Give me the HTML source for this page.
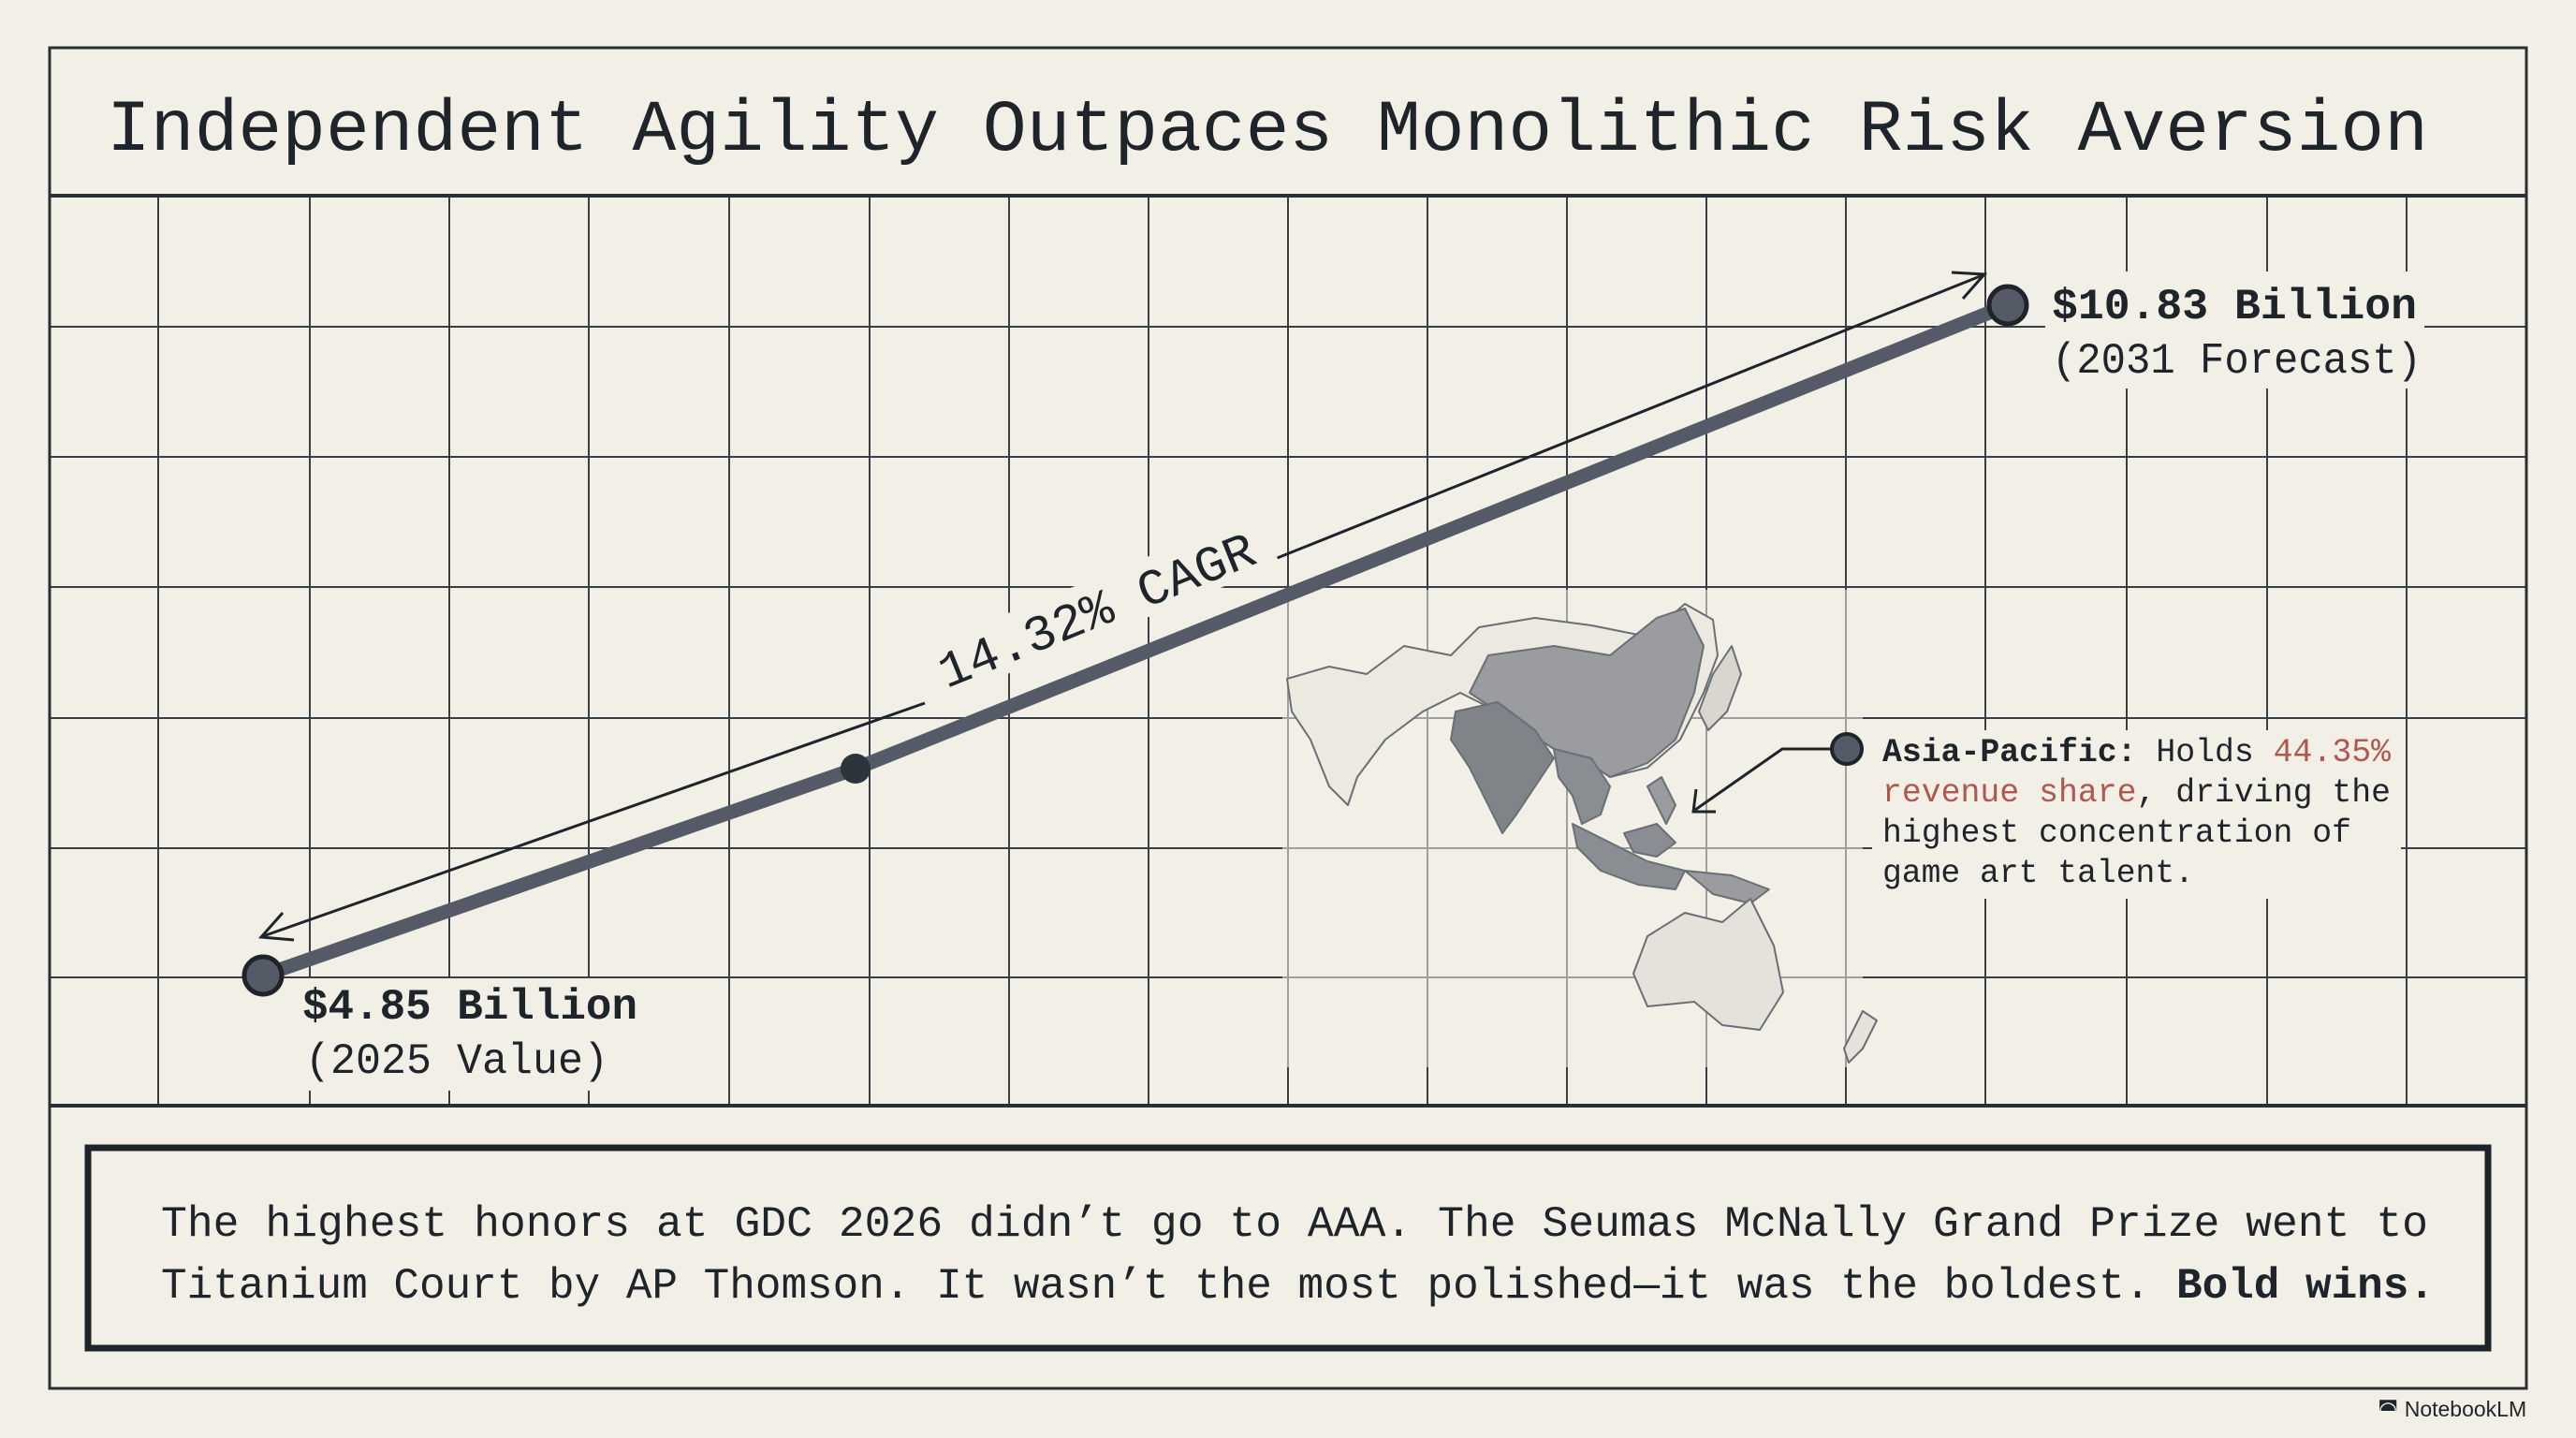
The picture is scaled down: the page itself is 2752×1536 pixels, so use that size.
<!DOCTYPE html>
<html><head><meta charset="utf-8"><style>
html,body{margin:0;padding:0;background:#f2efe6;}
svg{display:block}
text{font-family:"Liberation Mono","DejaVu Sans Mono",monospace;fill:#1f242b}
</style></head><body>
<svg width="2752" height="1536" viewBox="0 0 2752 1536" xmlns="http://www.w3.org/2000/svg">
<rect width="2752" height="1536" fill="#f2efe6"/>
<!-- grid -->
<g stroke="#3a3f45" stroke-width="2">
<line x1="169" y1="209" x2="169" y2="1181"/><line x1="331" y1="209" x2="331" y2="1181"/><line x1="480" y1="209" x2="480" y2="1181"/><line x1="629" y1="209" x2="629" y2="1181"/><line x1="779" y1="209" x2="779" y2="1181"/><line x1="929" y1="209" x2="929" y2="1181"/><line x1="1078" y1="209" x2="1078" y2="1181"/><line x1="1227" y1="209" x2="1227" y2="1181"/><line x1="1376" y1="209" x2="1376" y2="1181"/><line x1="1525" y1="209" x2="1525" y2="1181"/><line x1="1674" y1="209" x2="1674" y2="1181"/><line x1="1823" y1="209" x2="1823" y2="1181"/><line x1="1972" y1="209" x2="1972" y2="1181"/><line x1="2121" y1="209" x2="2121" y2="1181"/><line x1="2272" y1="209" x2="2272" y2="1181"/><line x1="2422" y1="209" x2="2422" y2="1181"/><line x1="2571" y1="209" x2="2571" y2="1181"/>
<line x1="53" y1="349" x2="2699" y2="349"/><line x1="53" y1="488" x2="2699" y2="488"/><line x1="53" y1="627" x2="2699" y2="627"/><line x1="53" y1="767" x2="2699" y2="767"/><line x1="53" y1="906" x2="2699" y2="906"/><line x1="53" y1="1044" x2="2699" y2="1044"/>
</g>
<!-- map background fade -->
<rect x="1370" y="630" width="620" height="510" fill="#f2efe6" opacity="0.55"/>
<!-- map -->
<g stroke="#6a6f76" stroke-width="2" stroke-linejoin="round">
<path d="M1375,725 L1420,712 L1460,720 L1500,690 L1550,700 L1580,670 L1640,660 L1700,668 L1760,680 L1800,645 L1830,662 L1835,700 L1820,740 L1795,790 L1760,820 L1720,830 L1680,800 L1640,790 L1600,760 L1560,740 L1520,760 L1480,790 L1450,830 L1440,860 L1420,840 L1400,790 L1380,760 Z" fill="#ece9e0"/>
<path d="M1590,700 L1660,690 L1720,700 L1770,660 L1800,650 L1820,690 L1810,740 L1790,790 L1760,815 L1720,830 L1690,810 L1660,800 L1630,780 L1600,760 L1570,740 Z" fill="#9a9ca0"/>
<path d="M1555,760 L1600,750 L1640,780 L1660,810 L1640,840 L1620,870 L1605,890 L1590,860 L1570,820 L1550,790 Z" fill="#808388"/>
<path d="M1660,800 L1700,810 L1720,840 L1710,870 L1690,880 L1680,850 L1665,830 Z" fill="#8a8d92"/>
<path d="M1680,880 L1720,900 L1760,920 L1800,930 L1790,950 L1750,945 L1710,930 L1685,905 Z" fill="#8a8d92"/>
<path d="M1735,890 L1770,880 L1790,900 L1770,915 L1745,910 Z" fill="#8a8d92"/>
<path d="M1800,930 L1850,935 L1890,950 L1870,965 L1830,955 Z" fill="#9a9ca0"/>
<path d="M1815,760 L1830,720 L1850,690 L1860,720 L1845,760 L1825,780 Z" fill="#d8d6cf"/>
<path d="M1760,840 L1775,830 L1790,860 L1780,880 Z" fill="#9a9ca0"/>
<path d="M1760,1000 L1800,975 L1840,985 L1870,960 L1895,1010 L1905,1060 L1880,1100 L1840,1095 L1810,1070 L1760,1075 L1745,1040 Z" fill="#e4e2da"/>
<path d="M1990,1080 L2005,1090 L1990,1120 L1975,1135 L1970,1120 Z" fill="#e4e2da"/>
</g>
<!-- label backgrounds -->
<rect x="2185" y="290" width="405" height="125" fill="#f2efe6"/>
<rect x="312" y="1045" width="380" height="120" fill="#f2efe6"/>
<rect x="2000" y="780" width="565" height="180" fill="#f2efe6"/>
<!-- frame -->
<rect x="53" y="51" width="2646" height="1432" fill="none" stroke="#2a2f36" stroke-width="3"/>
<line x1="53" y1="209" x2="2699" y2="209" stroke="#2a2f36" stroke-width="4"/>
<line x1="53" y1="1181" x2="2699" y2="1181" stroke="#2a2f36" stroke-width="4"/>
<text x="114" y="160" font-size="78" textLength="2480" lengthAdjust="spacingAndGlyphs">Independent Agility Outpaces Monolithic Risk Aversion</text>
<!-- CAGR arrow -->
<g stroke="#1f242b" stroke-width="3" fill="none">
<line x1="281" y1="1000" x2="988" y2="751"/>
<line x1="1362" y1="597" x2="2118" y2="294"/>
<path d="M2085,291 L2120,293 L2097,319"/>
<path d="M314,1004 L279,1001 L302,975"/>
</g>
<g transform="translate(1178 668) rotate(-22)">
<rect x="-200" y="-50" width="400" height="60" fill="#f2efe6"/>
<text x="0" y="0" font-size="54" text-anchor="middle" textLength="360" lengthAdjust="spacingAndGlyphs">14.32% CAGR</text>
</g>
<!-- main line -->
<polyline points="281,1042 914,821 2145,326" fill="none" stroke="#545b66" stroke-width="15" stroke-linecap="round" stroke-linejoin="round"/>
<circle cx="914" cy="821" r="16" fill="#2e343c"/>
<circle cx="281" cy="1042" r="20" fill="#545b66" stroke="#1f242b" stroke-width="5"/>
<circle cx="2145" cy="326" r="20" fill="#545b66" stroke="#1f242b" stroke-width="5"/>
<text x="2192" y="340" font-size="46" font-weight="bold" textLength="390" lengthAdjust="spacingAndGlyphs">$10.83 Billion</text>
<text x="2192" y="398" font-size="46" textLength="395" lengthAdjust="spacingAndGlyphs">(2031 Forecast)</text>
<text x="323" y="1088" font-size="46" font-weight="bold" textLength="358" lengthAdjust="spacingAndGlyphs">$4.85 Billion</text>
<text x="326" y="1146" font-size="46" textLength="324" lengthAdjust="spacingAndGlyphs">(2025 Value)</text>
<!-- asia callout -->
<g stroke="#1f242b" stroke-width="3" fill="none">
<path d="M1973,800 L1904,800 L1811,865"/>
<path d="M1812,843 L1809,867 L1833,867"/>
</g>
<circle cx="1973" cy="800" r="16" fill="#545b66" stroke="#1f242b" stroke-width="4"/>
<text x="2011" y="813" font-size="35" textLength="543" lengthAdjust="spacingAndGlyphs"><tspan font-weight="bold">Asia-Pacific:</tspan> Holds <tspan style="fill:#b0574f">44.35%</tspan></text>
<text x="2011" y="856" font-size="35" textLength="543" lengthAdjust="spacingAndGlyphs"><tspan style="fill:#b0574f">revenue share</tspan>, driving the</text>
<text x="2011" y="899" font-size="35" textLength="501" lengthAdjust="spacingAndGlyphs">highest concentration of</text>
<text x="2011" y="942" font-size="35" textLength="333" lengthAdjust="spacingAndGlyphs">game art talent.</text>
<!-- bottom box -->
<rect x="94" y="1226" width="2564" height="214" fill="none" stroke="#1f242b" stroke-width="7"/>
<text x="172" y="1320" font-size="46" textLength="2422" lengthAdjust="spacingAndGlyphs">The highest honors at GDC 2026 didn’t go to AAA. The Seumas McNally Grand Prize went to</text>
<text x="172" y="1386" font-size="46" textLength="2429" lengthAdjust="spacingAndGlyphs">Titanium Court by AP Thomson. It wasn’t the most polished—it was the boldest. <tspan font-weight="bold">Bold wins.</tspan></text>
<text x="2540" y="1513" font-size="23" style="font-family:'Liberation Sans',sans-serif">◚ NotebookLM</text>
</svg>
</body></html>
